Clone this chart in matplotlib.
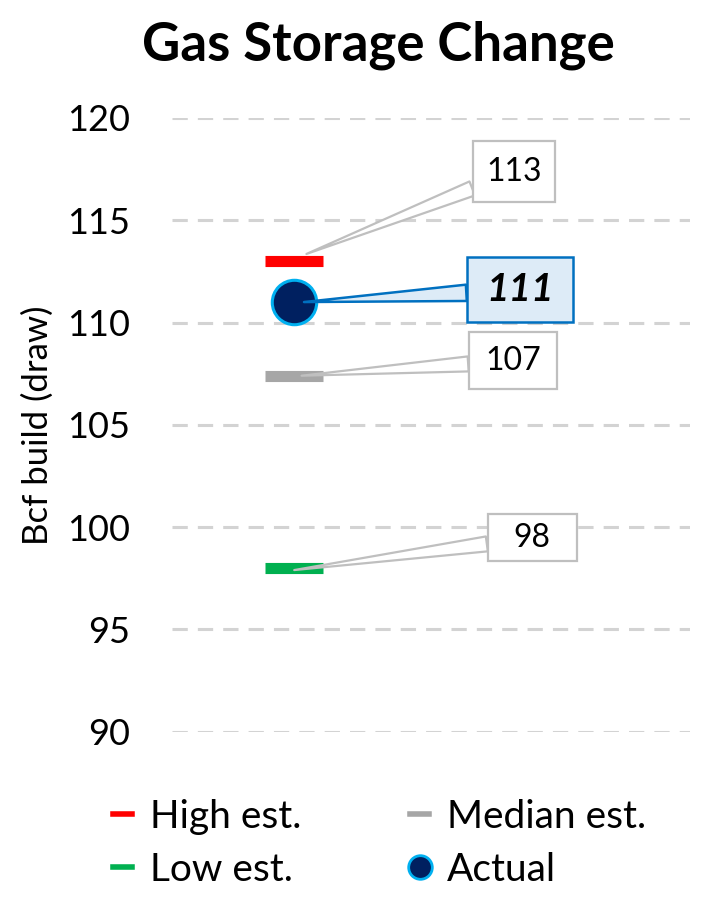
import matplotlib.pyplot as plt
from matplotlib.lines import Line2D
from matplotlib.path import Path

plt.rcParams['font.family'] = ['Lato', 'DejaVu Sans']

# data
series = ['High est.', 'Median est.', 'Low est.', 'Actual']
values = [113, 107.4, 98, 111]
colors = ['#FF0000', '#A6A6A6', '#00B050', '#002060']
yticks = [90, 95, 100, 105, 110, 115, 120]

fig = plt.figure(figsize=(7.05, 9), dpi=100)
ax = fig.add_axes([0.244, 0.187, 0.735, 0.682])

x0 = 0
for name, v, c in zip(series[:3], values[:3], colors[:3]):
    ax.plot([x0], [v], marker='_', markersize=42, markeredgewidth=8,
            color=c, linestyle='none', zorder=2)
ax.plot([x0], [values[3]], marker='o', markersize=32, markerfacecolor=colors[3],
        markeredgecolor='#00B0F0', markeredgewidth=2.2, linestyle='none', zorder=2)

ax.set_xlim(-0.5, 1.62)
ax.set_ylim(90, 120)
ax.set_yticks(yticks)
ax.set_xticks([])
ax.grid(axis='y', color='#D3D3D3', linewidth=2.2, linestyle=(0, (5, 3.3)))
ax.set_axisbelow(True)
for s in ax.spines.values():
    s.set_visible(False)
ax.tick_params(axis='y', length=0, pad=30, labelsize=26)


def fixed_box(w, h):
    # rectangle of fixed pixel size centred on the text
    def style(x, y, width, height, mutation_size):
        cx, cy = x + width / 2, y + height / 2
        return Path([(cx - w / 2, cy - h / 2), (cx + w / 2, cy - h / 2),
                     (cx + w / 2, cy + h / 2), (cx - w / 2, cy + h / 2),
                     (cx - w / 2, cy - h / 2)], closed=True)
    return style


# callouts: text x (axes frac), text y (data), tip dx, tip dy, box w, box h (px)
lab_pos = {'High est.': (0.66, 117.36, 0.05, 0.35, 82, 61),
           'Median est.': (0.658, 108.13, 0.03, 0.0, 88, 57),
           'Low est.': (0.695, 99.48, 0.0, -0.1, 89, 47),
           'Actual': (0.672, 111.6, 0.04, 0.0, 106, 65)}
ytrans = ax.get_yaxis_transform()
for name, v in zip(series, values):
    tx, ty, dx, dy, bw, bh = lab_pos[name]
    if name == 'Actual':
        ax.annotate(f'{v:.0f}', xy=(x0 + dx, v + dy), xytext=(tx, ty), textcoords=ytrans,
                    ha='center', va='center', fontsize=28, fontweight='bold', fontstyle='italic',
                    bbox=dict(boxstyle=fixed_box(bw, bh), fc='#DDEBF7', ec='#0070C0', lw=1.8),
                    arrowprops=dict(arrowstyle='wedge,tail_width=0.42', fc='#DDEBF7',
                                    ec='#0070C0', lw=1.8, shrinkA=0, shrinkB=0),
                    zorder=4)
    else:
        ax.annotate(f'{v:.0f}', xy=(x0 + dx, v + dy), xytext=(tx, ty), textcoords=ytrans,
                    ha='center', va='center', fontsize=23,
                    bbox=dict(boxstyle=fixed_box(bw, bh), fc='white', ec='#BFBFBF', lw=1.6),
                    arrowprops=dict(arrowstyle='wedge,tail_width=0.47', fc='white',
                                    ec='#BFBFBF', lw=1.6, shrinkA=0, shrinkB=0),
                    zorder=3)

fig.text(0.536, 0.95, 'Gas Storage Change', ha='center', va='center',
         fontsize=38, fontweight='bold')
fig.text(0.054, 0.528, 'Bcf build (draw)', rotation=90, ha='center', va='center',
         fontsize=25)

handles = [Line2D([], [], color=colors[0], lw=4),
           Line2D([], [], color=colors[1], lw=4),
           Line2D([], [], color=colors[2], lw=4),
           Line2D([], [], marker='o', markersize=17, markerfacecolor=colors[3],
                  markeredgecolor='#00B0F0', markeredgewidth=2, linestyle='none')]
fig.legend([handles[0], handles[2], handles[1], handles[3]],
           [series[0], series[2], series[1], series[3]],
           ncol=2, loc='center', bbox_to_anchor=(0.538, 0.063), frameon=False,
           fontsize=28, handlelength=0.5, handletextpad=0.45, columnspacing=2.8,
           labelspacing=0.45)

fig.savefig('out.png', dpi=100)
